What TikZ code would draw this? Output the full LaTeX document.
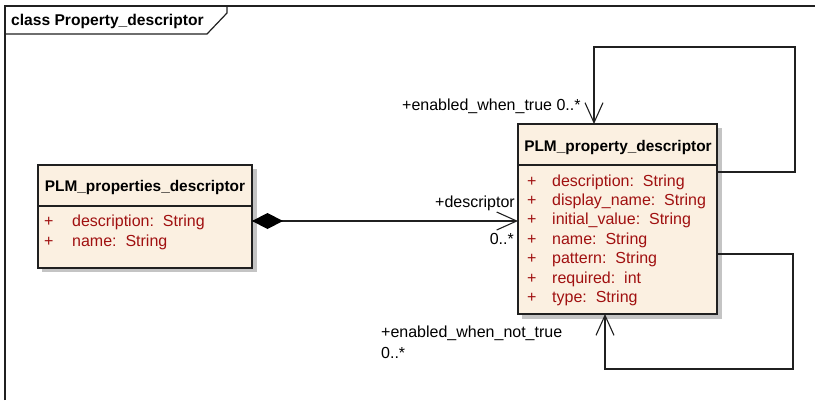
\documentclass[tikz,border=0pt]{standalone}
\usepackage{fontspec}
\setmainfont{Liberation Sans}
\usetikzlibrary{arrows.meta}
\definecolor{boxfill}{HTML}{FBF0E1}
\definecolor{attr}{HTML}{A01010}
\definecolor{shadowc}{HTML}{C4C4C4}
\definecolor{linec}{HTML}{202020}
\tikzset{
  umlbox/.style={draw=linec, line width=1.1pt, fill=boxfill},
  shade box/.style={fill=shadowc, draw=none},
  conn/.style={draw=linec, line width=1.1pt},
  lbl/.style={font=\fontsize{16}{19}\selectfont, inner sep=0pt, text=black},
  title/.style={font=\fontsize{15.4}{19}\selectfont\bfseries, inner sep=0pt},
  attrtxt/.style={font=\fontsize{16}{19}\selectfont, inner sep=0pt, text=attr, anchor=west},
  openarrow/.style={-{Straight Barb[length=20pt,width=18pt,line width=1.1pt]}},
}
\begin{document}
\begin{tikzpicture}[x=1pt,y=-1pt]
\useasboundingbox (0,0) rectangle (815,400);
% frame
\draw[conn, line width=1.2pt] (5,400) -- (5,6) -- (815,6);
\draw[conn, line width=1.2pt] (5,34) -- (207,34) -- (227,13) -- (227,6);
\node[title, font=\fontsize{15.6}{19}\selectfont\bfseries, anchor=west] (frametitle) at (11,21) {class Property\_descriptor};

% left class
\fill[shade box] (42,169) rectangle (257,272);
\draw[umlbox] (38,165) rectangle (252,268);
\coordinate (L) at (252,221);
\draw[conn] (38,206) -- (252,206);
\node[title] (ltitle) at (145,188) {PLM\_properties\_descriptor};
\node[attrtxt] (la1p) at (44,222) {+};
\node[attrtxt] (la1) at (72,222) {description:\ \ String};
\node[attrtxt] (la2p) at (44,242) {+};
\node[attrtxt] (la2) at (72,242) {name:\ \ String};

% right class
\fill[shade box] (522,128) rectangle (722,319);
\draw[umlbox] (518,124) rectangle (717,314);
\draw[conn] (518,165) -- (717,165);
\node[title] (rtitle) at (618,148) {PLM\_property\_descriptor};
\foreach \y/\t [count=\i] in {182/{description:\ \ String},201/{display\_name:\ \ String},220/{initial\_value:\ \ String},240/{name:\ \ String},259/{pattern:\ \ String},279/{required:\ \ int},298/{type:\ \ String}}{
  \node[attrtxt] (rp\i) at (527,\y) {+};
  \node[attrtxt] (ra\i) at (552,\y) {\t};
}
\coordinate (R) at (518,221);
\coordinate (Rtop) at (594,124);
\coordinate (Rbot) at (605,314);
\coordinate (Rr1) at (717,172);
\coordinate (Rr2) at (717,254);

% composition
\draw[conn, openarrow] (L) -- (R);
\fill[black] (L) -- (267.5,213) -- (283,221) -- (267.5,229) -- cycle;
\node[lbl, anchor=east] (desc) at (515,203) {+descriptor};
\node[lbl, anchor=east] (descm) at (514,239) {0..*};

% top self association
\draw[conn, openarrow] (Rr1) -- (795,172) -- (795,47) -- (594,47) -- (Rtop);
\node[lbl, anchor=west] (ewt) at (402,106) {+enabled\_when\_true 0..*};

% bottom self association
\draw[conn, openarrow] (Rr2) -- (793,254) -- (793,369) -- (605,369) -- (Rbot);
\node[lbl, anchor=west] (ewnt) at (381,333) {+enabled\_when\_not\_true};
\node[lbl, anchor=west] (ewntm) at (381,353) {0..*};
\end{tikzpicture}
\end{document}
